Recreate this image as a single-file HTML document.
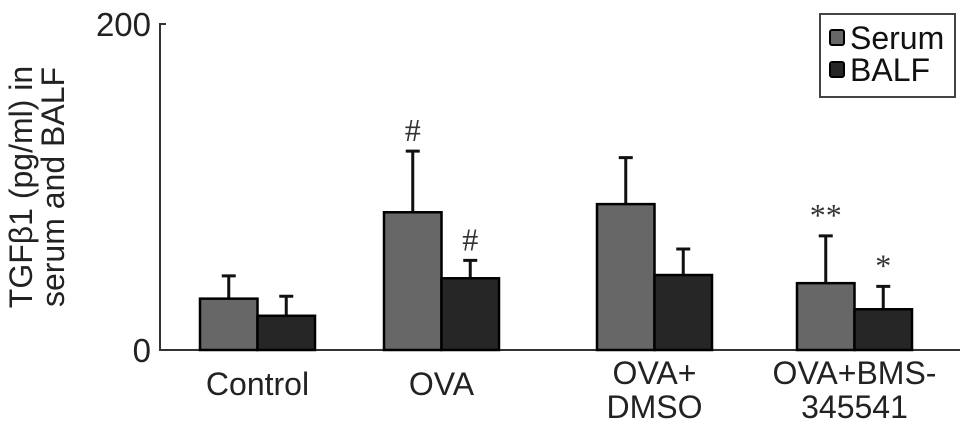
<!DOCTYPE html>
<html><head><meta charset="utf-8"><style>
body{margin:0;background:#fff;}
svg{display:block;font-family:"Liberation Sans",sans-serif;}
</style></head><body>
<svg id="chart" width="969" height="440" viewBox="0 0 969 440" xmlns="http://www.w3.org/2000/svg"></svg>
<script>
const categories=[["Control"],["OVA"],["OVA+","DMSO"],["OVA+BMS-","345541"]];
const serum=[31.5,84.5,89.5,41];
const serumErr=[45.5,122,118,70];
const balf=[21,44,46,25];
const balfErr=[33,55,62,39];
const serumMarks=["","#","","**"];
const balfMarks=["","#","","*"];
const yTicks=[0,200];
const NS="http://www.w3.org/2000/svg";
const svg=document.getElementById('chart');
const y0=350,y1=24,xAxis0=160,xAxis1=960;
const groupStart=[200,384,597,797];
const bw=57.5;
function y(v){return y0-(v/200)*(y0-y1);}
function el(t,a,p){const e=document.createElementNS(NS,t);for(const k in a)e.setAttribute(k,a[k]);(p||svg).appendChild(e);return e;}
const ax=el('path',{d:`M${xAxis0+6} ${y1}H${xAxis0}V${y0}H${xAxis1}`,fill:'none',stroke:'#333','stroke-width':2});


yTicks.forEach(t=>{const tx=el('text',{x:151,y:y(t)+12,'text-anchor':'end','font-size':33,fill:'#222'});tx.textContent=t;

});
const yt=el('text',{transform:'translate(36,187) rotate(-90)','text-anchor':'middle','font-size':32,fill:'#222'});


const t1=el('tspan',{x:0,dy:-4},yt);t1.textContent='TGFβ1 (pg/ml) in';
const t2=el('tspan',{x:0,dy:32},yt);t2.textContent='serum and BALF';
categories.forEach((c,i)=>{
 const gx=groupStart[i];
 [[serum,serumErr,'#676767',serumMarks,'serum'],[balf,balfErr,'#262626',balfMarks,'balf']].forEach((s,j)=>{
  const x=gx+j*bw, v=s[0][i], e=s[1][i];
  const er=el('path',{d:`M${x+bw/2} ${y(v)}V${y(e)}M${x+bw/2-7} ${y(e)}H${x+bw/2+7}`,stroke:'#111','stroke-width':3,fill:'none'});
  
  
  const r=el('rect',{x:x,y:y(v),width:bw,height:y0-y(v),fill:s[2],stroke:'#000','stroke-width':2.5});
  
  
  if(s[3][i]){const m=el('text',{x:x+bw/2,y:y(e)-10,'text-anchor':'middle','font-size':32,fill:'#333','font-family':'Liberation Serif'});m.textContent=s[3][i];
  
  }
 });
 const lt=el('text',{x:gx+bw,y:c.length>1?384:395,'text-anchor':'middle','font-size':32,fill:'#222'});
 
 
 c.forEach((line,k)=>{const ts=el('tspan',{x:gx+bw,dy:k?34:0},lt);ts.textContent=line;});
});
const lg=el('g',{});


el('rect',{x:820,y:14,width:135,height:83,fill:'#fff',stroke:'#444','stroke-width':2},lg);
[['Serum','#676767',38],['BALF','#262626',70]].forEach(d=>{
 const g=el('g',{},lg);
 
 
 el('rect',{x:830,y:d[2]-8,width:14,height:15,fill:d[1],stroke:'#000','stroke-width':2,rx:2},g);
 const t=el('text',{x:850,y:d[2]+11,'font-size':32,fill:'#111'},g);t.textContent=d[0];
});
</script>
</body></html>
